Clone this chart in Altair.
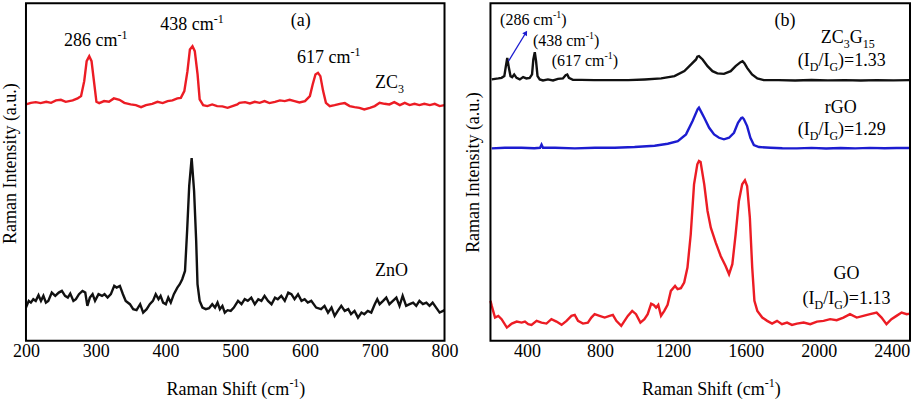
import altair as alt
import pandas as pd

SERIF = "Liberation Serif, DejaVu Serif, serif"
RED = "#ec1c24"
BLUE = "#1c1cd0"
BLACK = "#111111"

# ---------------- panel (a) data ----------------
zc3_x = [200, 207, 214, 221, 229, 236, 243, 250, 257, 267, 274, 279, 283.5, 287, 290.7, 294, 298, 301, 305, 312,
         319, 326, 334, 341, 350, 357.5, 365, 372, 381, 388.5, 396, 403, 410, 417, 422, 427, 431.5, 435, 438.7, 442,
         446, 449, 454, 460, 467, 474, 481.6, 489, 496, 503, 506, 514, 521, 528, 535, 542, 549, 557, 564, 571,
         578, 585, 592, 600, 607, 611, 615, 618.6, 622, 626, 630, 635.5, 642.5, 650, 657, 664, 671, 678, 685, 693,
         700, 707, 714, 721, 728, 736, 743, 750, 757, 764, 771, 779, 786, 793, 800]
zc3_y = [236.7, 238.3, 239, 238, 239.3, 238.3, 240.7, 241.3, 239.3, 240.7, 242.7, 245, 260, 280, 285, 280, 256.7, 239.3, 238, 240,
         239.3, 242.7, 241.3, 238.3, 236.7, 236, 234, 236, 237.3, 239.3, 238, 240, 240.7, 242.7, 243.3, 250, 270, 291.7, 295, 290,
         266.7, 241.7, 236, 235, 236.7, 235, 234.7, 233.3, 235, 236.7, 238.3, 239, 237.7, 239.3, 238.3, 240, 238, 239.3, 240.7, 240,
         241.3, 240, 238.7, 240, 245, 256.7, 266.7, 268.3, 265, 250, 238.3, 235, 236, 237.3, 238, 235, 234, 233.3, 231.7, 233.3,
         235, 238.3, 237.3, 236.7, 239, 236, 238.3, 236, 237.3, 236, 237.3, 236, 237.3, 235, 236]

zno_x = [200, 204, 207, 210.5, 214, 218, 221.5, 225, 228.6, 232, 237, 242, 247, 251.5, 256, 260, 263.5, 268, 271.6, 276,
         281, 285, 288, 291.6, 295.5, 299, 304, 309, 312.6, 317, 321.7, 326.5, 330, 334.6, 339, 343, 349, 353.7, 358.5, 363.7,
         368, 373, 377.5, 382, 386, 390, 393, 396.6, 400.5, 404, 407.6, 412, 417, 420.5, 424, 428, 431, 434, 437.5, 441,
         444, 445.9, 449, 453, 457.8, 462.5, 467, 471, 474.6, 478, 481.6, 485, 489, 493.5, 498, 504, 509, 513.6, 518, 523,
         528, 533, 537.5, 542, 547, 552, 557, 561, 566, 571, 576, 580.5, 585, 590, 595, 599.5, 604, 609, 616, 623,
         628, 633, 638, 642.5, 647, 652, 657, 662, 666, 671, 676, 681, 685, 690, 695, 700, 703.6, 707, 712, 716.5,
         721, 726, 731, 735.5, 740, 745, 750, 755, 759.5, 764, 769, 774, 778.5, 783, 788, 793, 798, 800]
zno_y = [33.3, 40, 38.3, 41.7, 40, 45.7, 40, 45, 38.3, 40, 48.3, 45, 48.3, 50, 45, 43.3, 47.3, 40, 41.7, 46.7,
         50, 48.3, 35, 43.3, 46.7, 40, 46.7, 45, 46.7, 43.3, 46.7, 55, 53.3, 55, 46.7, 40, 36.7, 31.7, 30.7, 36.7,
         28.3, 31.7, 36.7, 40, 46.7, 41.7, 45, 38.3, 36.7, 43.3, 38.3, 46.7, 53.3, 56.7, 61.7, 70, 110, 155, 183, 150,
         100, 56.7, 40, 33.3, 31.7, 32.7, 36.7, 33.3, 38.3, 31.7, 35, 28.3, 30.7, 30, 33.3, 40, 36.7, 41.7, 40, 43.3,
         36.7, 41.7, 40, 45, 40, 36.7, 43.3, 41.7, 45, 40, 48.3, 46.7, 41.7, 46.7, 40, 41.7, 38.3, 40, 33.3, 31.7,
         35, 28.3, 33.3, 25, 30, 35, 30, 31.7, 26.7, 30, 23.3, 28.3, 26.7, 30, 28.3, 36.7, 41.7, 36.7, 40, 43.3,
         36.7, 40, 43.3, 35, 45, 35, 36.7, 38.3, 35, 40, 36.7, 38.3, 35, 38.3, 33.3, 28.3, 30, 30.7]

# ---------------- panel (b) data ----------------
zcg_x = [207, 225, 243, 261, 276, 283, 292, 301, 310, 319, 330, 343, 361, 379, 397, 415, 428, 435, 443, 450,
         458, 470, 488, 515, 543, 570, 597, 612, 621, 630, 652, 697, 769, 863, 955, 1046, 1136, 1209, 1263, 1300,
         1327, 1334, 1343, 1363, 1390, 1417, 1444, 1480, 1517, 1544, 1571, 1582, 1592, 1607, 1634, 1663, 1699, 1780, 1870, 1960,
         2050, 2140, 2230, 2320, 2410, 2500]
zcg_y = [261.7, 262.3, 262.7, 263.3, 265, 273.3, 283.3, 273.3, 265, 264, 266.7, 263.3, 261.7, 264, 262.7, 263.3, 266.7, 281.7, 289, 280,
         265, 261.7, 260.7, 261.7, 260.7, 262.3, 262.7, 266, 266.7, 263.3, 261.3, 261.3, 261, 261, 261, 261.7, 262.7, 265, 270, 276.7,
         281.7, 284.5, 285, 281.7, 275, 270, 267.7, 267.3, 270, 275, 279, 280, 278, 273.3, 266.7, 262.7, 261, 261, 260.7, 261.2,
         260.8, 261, 260.7, 261, 260.8, 261]

rgo_x = [207, 279, 370, 440, 472, 480, 488, 554, 663, 773, 881, 990, 1100, 1172, 1227, 1272, 1308, 1336, 1343, 1353,
         1372, 1399, 1426, 1453, 1480, 1508, 1535, 1557, 1575, 1582, 1589, 1607, 1625, 1644, 1672, 1735, 1800, 1880, 1960, 2040,
         2120, 2200, 2280, 2360, 2426, 2500]
rgo_y = [192.7, 193.3, 193.3, 192.8, 193.3, 196.5, 193.3, 193.3, 192.7, 193.3, 193.3, 194, 195.3, 197.3, 200, 206.7, 220, 232, 233.5, 230,
         223.3, 213.3, 206.7, 203.3, 201.7, 203.3, 208.3, 218.3, 223, 223.5, 222, 215, 203.3, 196, 194, 193.3, 192.8, 192.7, 193.2, 192.6,
         193, 192.7, 193.2, 192.8, 193, 193]

go_x = [200, 207, 225, 243, 261, 290, 317, 344, 371, 389, 407, 425, 453, 480, 507, 534, 562, 590, 617, 644,
        662, 680, 707, 734, 753, 771, 798, 826, 853, 871, 890, 917, 935, 953, 977, 998, 1022, 1044, 1062, 1081,
        1095, 1108, 1120, 1135, 1153, 1171, 1189, 1212, 1226, 1244, 1262, 1280, 1298, 1316, 1334, 1343, 1352, 1372, 1390, 1408,
        1435, 1462, 1489, 1508, 1526, 1544, 1562, 1580, 1595, 1607, 1622, 1635, 1647, 1663, 1690, 1717, 1744, 1771, 1798, 1826,
        1853, 1880, 1917, 1953, 1990, 2026, 2062, 2098, 2135, 2171, 2208, 2244, 2281, 2317, 2344, 2371, 2398, 2426, 2454, 2482,
        2500]
go_y = [40, 35, 23.3, 25, 21.7, 13.3, 17.3, 19.3, 18.3, 19.3, 16.7, 16, 20, 18.3, 17.3, 21.7, 19.3, 16, 20, 25,
        26, 20, 17.3, 18.3, 23.3, 26.7, 25, 23.3, 25, 26, 20, 15, 20, 25, 30, 26.7, 18.3, 21.7, 26.7, 37.3,
        36, 33.3, 36, 25, 30, 36, 50, 55, 51.7, 52.7, 58.3, 73.3, 106.7, 156.7, 176.7, 180, 179, 156.7, 130, 113.3,
        98.3, 85, 75, 66.7, 76.7, 106.7, 140, 156.7, 160.7, 155, 123.3, 73.3, 40, 30, 23.3, 20, 17.3, 20, 16.7, 18.3,
        16, 17.3, 18.3, 16.7, 19.3, 20, 21.7, 20.7, 23.3, 26.7, 23.3, 25, 26.7, 28.3, 23.3, 16.7, 21.7, 25, 28.3, 26.7,
        27.3]

a_ticks = [200, 300, 400, 500, 600, 700, 800]
b_ticks = [400, 800, 1200, 1600, 2000, 2400]

# annotation texts: (segments, x, intensity)
a_notes = [
    ([("286 cm", "n"), ("-1", "sup")], 300, 295),
    ([("438 cm", "n"), ("-1", "sup")], 438, 311),
    ([("617 cm", "n"), ("-1", "sup")], 634, 278),
    ([("(a)", "n")], 594, 315),
    ([("ZC", "n"), ("3", "sub")], 721, 253),
    ([("ZnO", "n")], 724, 65),
]
b_notes = [
    ([("(286 cm", "n"), ("-1", "sup"), (")", "n")], 435, 316, 16),
    ([("(438 cm", "n"), ("-1", "sup"), (")", "n")], 615, 295, 16),
    ([("(617 cm", "n"), ("-1", "sup"), (")", "n")], 718, 275, 16),
    ([("(b)", "n")], 1815, 315, 18),
    ([("ZC", "n"), ("3", "sub"), ("G", "n"), ("15", "sub")], 2159, 298, 18),
    ([("(I", "n"), ("D", "sub"), ("/I", "n"), ("G", "sub"), (")=1.33", "n")], 2126, 275, 18),
    ([("rGO", "n")], 2120, 228, 18),
    ([("(I", "n"), ("D", "sub"), ("/I", "n"), ("G", "sub"), (")=1.29", "n")], 2126, 206, 18),
    ([("GO", "n")], 2152, 62, 18),
    ([("(I", "n"), ("D", "sub"), ("/I", "n"), ("G", "sub"), (")=1.13", "n")], 2152, 37, 18),
]
xtitle = [("Raman Shift (cm", "n"), ("-1", "sup"), (")", "n")]

# ---------------- helpers ----------------
W = {'0': .5, '1': .5, '2': .5, '3': .5, '4': .5, '5': .5, '6': .5, '7': .5, '8': .5, '9': .5,
     ' ': .25, '(': .333, ')': .333, 'c': .444, 'm': .778, '-': .333, 'I': .333, 'D': .722, 'G': .722,
     '/': .278, '=': .564, '.': .25, 'Z': .611, 'C': .667, 'R': .667, 'a': .444, 'n': .5, 'S': .556,
     'h': .5, 'i': .278, 'f': .333, 't': .278, 'O': .722, 'r': .333, 'b': .5}
ONE = pd.DataFrame({"k": [0]})


def tw(s, fs):
    return sum(W.get(ch, 0.5) for ch in s) * fs


def rich(segs, x_enc, y_enc, base):
    small = round(base * 0.64)
    sizes = [base if k == "n" else small for _, k in segs]
    widths = [tw(t, fs) for (t, _), fs in zip(segs, sizes)]
    cum = -sum(widths) / 2
    out = []
    for (t, k), fs, w in zip(segs, sizes, widths):
        dy = 0 if k == "n" else (base * 0.28 if k == "sub" else -base * 0.42)
        out.append(alt.Chart(ONE).mark_text(text=t, align="left", baseline="alphabetic", dx=cum, dy=dy,
                                            font=SERIF, fontSize=fs, color="black")
                   .encode(x=x_enc, y=y_enc))
        cum += w
    return out


def xaxis(vals):
    return alt.Axis(values=vals, format="d", title=None, grid=False, ticks=False, domain=False, labelFont=SERIF,
                    labelFontSize=18, labelColor="black", labelPadding=2, labelFlush=False)


def yaxis(pad, ty=None):
    kw = dict(title="Raman Intensity (a.u.)", labels=False, ticks=False, domain=False, grid=False,
              titleFont=SERIF, titleFontSize=18, titleFontWeight="normal", titleColor="black", titlePadding=pad)
    if ty is not None:
        kw["titleY"] = ty
    return alt.Axis(**kw)


def frame(w, h):
    return alt.Chart(ONE).mark_rect(fillOpacity=0, stroke="black", strokeWidth=2).encode(
        x=alt.value(0), x2=alt.value(w), y=alt.value(0), y2=alt.value(h))


H = 338
ydom = alt.Scale(domain=[0, H], nice=False, zero=False)

# ---------------- panel (a) ----------------
dfa = pd.concat([
    pd.DataFrame({"x": zc3_x, "I": zc3_y, "s": "ZC3", "c": RED}),
    pd.DataFrame({"x": zno_x, "I": zno_y, "s": "ZnO", "c": BLACK}),
])
lines_a = alt.Chart(dfa).mark_line(strokeWidth=2.4).encode(
    x=alt.X("x:Q", scale=alt.Scale(domain=[200, 800], nice=False, zero=False), axis=xaxis(a_ticks)),
    y=alt.Y("I:Q", scale=ydom, axis=yaxis(6, 160)),
    color=alt.Color("c:N", scale=None),
    detail="s:N",
)
WA = 419
layers_a = [lines_a, frame(WA, H)]
for segs, xv, iv in a_notes:
    layers_a += rich(segs, alt.datum(xv), alt.datum(iv), 18)
layers_a += rich(xtitle, alt.datum(501), alt.value(392), 18)
left = alt.layer(*layers_a).properties(width=WA, height=H)

# ---------------- panel (b) ----------------
dfb = pd.concat([
    pd.DataFrame({"x": zcg_x, "I": zcg_y, "s": "ZC3G15", "c": BLACK}),
    pd.DataFrame({"x": rgo_x, "I": rgo_y, "s": "rGO", "c": BLUE}),
    pd.DataFrame({"x": go_x, "I": go_y, "s": "GO", "c": RED}),
])
lines_b = alt.Chart(dfb).mark_line(strokeWidth=2.4).encode(
    x=alt.X("x:Q", scale=alt.Scale(domain=[200, 2500], nice=False, zero=False), axis=xaxis(b_ticks)),
    y=alt.Y("I:Q", scale=ydom, axis=yaxis(8)),
    color=alt.Color("c:N", scale=None),
    detail="s:N",
)
WB = 420
arrow_line = alt.Chart(ONE).mark_rule(color=BLUE, strokeWidth=1.3).encode(
    x=alt.datum(299), y=alt.datum(280), x2=alt.datum(394), y2=alt.datum(308.4))
arrow_head = alt.Chart(ONE).mark_point(shape="triangle-up", angle=31.5, size=30, filled=True,
                                       color=BLUE, opacity=1).encode(x=alt.datum(394), y=alt.datum(308.4))
layers_b = [lines_b, frame(WB, H), arrow_line, arrow_head]
for segs, xv, iv, fs in b_notes:
    layers_b += rich(segs, alt.datum(xv), alt.datum(iv), fs)
layers_b += rich(xtitle, alt.datum(1411), alt.value(392), 18)
right = alt.layer(*layers_b).properties(width=WB, height=H)

chart = alt.hconcat(left, right, spacing=46).properties(
    bounds="flush",
    background="white",
    padding={"left": 2, "top": 2, "right": 0, "bottom": 0},
).configure_view(stroke=None)

chart.save("out.html", embed_options={"renderer": "svg", "actions": False})
